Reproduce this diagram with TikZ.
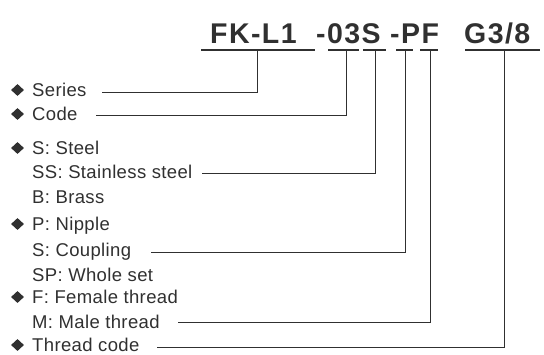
\documentclass[tikz,border=0pt]{standalone}
\usetikzlibrary{shapes.geometric}
\usepackage{fontspec}
\setmainfont{Liberation Sans}[LetterSpace=2]
\newfontfamily\headfont{Liberation Sans}[LetterSpace=5]
\definecolor{ink}{HTML}{303030}
\begin{document}
\begin{tikzpicture}[x=1pt,y=-1pt,
  lbl/.style={anchor=base west,inner sep=0pt,font=\fontsize{18.5}{20}\selectfont,text=ink},
  hdr/.style={anchor=base west,inner sep=0pt,font=\headfont\bfseries\fontsize{28.5}{30}\selectfont,text=ink},
  conn/.style={draw=ink,line width=1pt},
  uline/.style={draw=ink,line width=1.2pt},
  bullet/.style={diamond,fill=ink,inner sep=0pt,minimum width=13pt,minimum height=12pt}]
\useasboundingbox (0,0) rectangle (544,354);
% header
\node[hdr] (h1) at (210,43) {FK-L1};
\node[hdr] (h2) at (316,43) {-03S};
\node[hdr] (h3) at (390,43) {-PF};
\node[hdr] (h4) at (464,43) {G3/8};
% underlines
\coordinate (u1a) at (201,50); \coordinate (u1b) at (315,50);
\coordinate (u2a) at (328,50); \coordinate (u2b) at (359,50);
\coordinate (u3a) at (363,50); \coordinate (u3b) at (386,50);
\coordinate (u4a) at (396,50); \coordinate (u4b) at (413,50);
\coordinate (u5a) at (420,50); \coordinate (u5b) at (438,50);
\coordinate (u6a) at (465,50); \coordinate (u6b) at (540,50);
\draw[uline] (u1a) -- (u1b);
\draw[uline] (u2a) -- (u2b);
\draw[uline] (u3a) -- (u3b);
\draw[uline] (u4a) -- (u4b);
\draw[uline] (u5a) -- (u5b);
\draw[uline] (u6a) -- (u6b);
% tap points
\coordinate (t1) at (257,50);
\coordinate (t2) at (346,50);
\coordinate (t3) at (375,50);
\coordinate (t4) at (405,50);
\coordinate (t5) at (430,50);
\coordinate (t6) at (504,50);
% bullets
\node[bullet] (d1) at (17.5,90) {};
\node[bullet] (d2) at (17.5,114) {};
\node[bullet] (d3) at (17.5,148) {};
\node[bullet] (d4) at (17.5,224) {};
\node[bullet] (d5) at (17.5,297) {};
\node[bullet] (d6) at (17.5,345) {};
% labels
\node[lbl] (l1) at (32,96) {Series};
\node[lbl] (l2) at (32,120) {Code};
\node[lbl] (l3) at (32,154) {S: Steel};
\node[lbl] (l4) at (32,178) {SS: Stainless steel};
\node[lbl] (l5) at (32,203) {B: Brass};
\node[lbl] (l6) at (32,230) {P: Nipple};
\node[lbl] (l7) at (32,256) {S: Coupling};
\node[lbl] (l8) at (32,281) {SP: Whole set};
\node[lbl] (l9) at (32,303) {F: Female thread};
\node[lbl] (l10) at (32,328) {M: Male thread};
\node[lbl] (l11) at (32,351) {Thread code};
% connector starts
\coordinate (e1) at (102,92);
\coordinate (e2) at (96,115);
\coordinate (e3) at (202,173);
\coordinate (e4) at (151,252);
\coordinate (e5) at (178,322);
\coordinate (e6) at (157,347);
\draw[conn] (e1) -| (t1);
\draw[conn] (e2) -| (t2);
\draw[conn] (e3) -| (t3);
\draw[conn] (e4) -| (t4);
\draw[conn] (e5) -| (t5);
\draw[conn] (e6) -| (t6);
\end{tikzpicture}
\end{document}
